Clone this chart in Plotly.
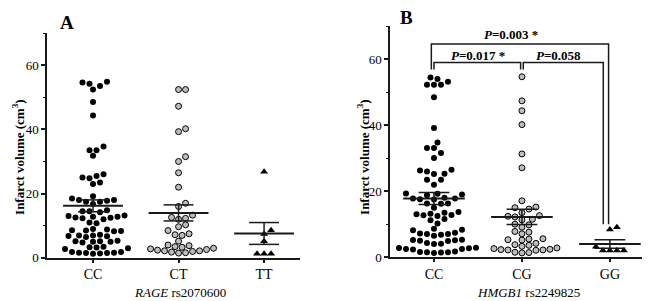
import plotly.graph_objects as go

# ---------------- data ----------------
cats_A = ["CC", "CT", "TT"]
cats_B = ["CC", "CG", "GG"]

A_CC = [54.8, 54.2, 54.6, 53.5, 52.4, 48.5, 44.3, 34.7, 33.5, 33.5, 31.8, 26.0, 25.5, 25.0,
        24.8, 23.5, 23.0, 19.2, 18.5, 18.0, 18.0, 17.8, 17.5, 17.5, 16.8, 14.8, 14.5, 14.2,
        14.5, 13.2, 13.0, 12.8, 12.6, 12.5, 12.3, 12.8, 12.0, 11.0, 10.8, 9.0, 8.8, 8.6, 8.5,
        8.4, 8.3, 7.2, 7.0, 7.0, 6.8, 6.7, 6.5, 5.3, 5.2, 5.0, 5.0, 4.8, 5.2, 3.5, 3.2, 3.0,
        3.3, 2.8, 1.8, 1.6, 1.5, 1.5, 1.4, 1.3, 1.6, 1.8]
A_CT = [52.4, 52.4, 47.2, 40.2, 39.3, 31.5, 30.0, 26.5, 22.0, 17.0, 16.0, 13.3, 12.6, 12.3,
        12.0, 10.3, 9.7, 8.5, 7.5, 7.2, 7.0, 5.2, 4.0, 3.8, 3.5, 3.3, 3.0, 2.8, 2.6, 2.4,
        2.2, 2.2, 2.0, 1.8, 1.6, 1.5]
A_TT = [26.8, 8.6, 7.4, 5.2, 1.3, 1.3, 1.3]

B_CC = [54.5, 54.0, 53.2, 52.3, 52.3, 52.3, 48.5, 39.2, 34.8, 33.1, 33.1, 31.6, 30.1, 26.5,
        26.3, 26.0, 25.3, 25.2, 23.5, 23.5, 22.0, 19.3, 19.2, 19.0, 18.8, 18.0, 17.8, 17.8,
        17.6, 17.5, 16.3, 16.3, 16.2, 15.0, 13.7, 13.5, 13.2, 13.0, 12.8, 12.7, 12.5, 11.6,
        11.2, 10.2, 8.6, 8.3, 8.2, 7.4, 7.2, 7.0, 7.0, 6.8, 6.5, 5.3, 5.2, 5.1, 5.0, 4.9,
        4.3, 4.1, 4.0, 2.9, 2.8, 2.7, 2.5, 2.5, 2.3, 1.7, 1.6, 1.5, 1.5, 1.4, 1.3]
B_CG = [54.7, 47.4, 44.4, 40.2, 31.3, 27.1, 17.1, 15.2, 15.0, 14.6, 13.5, 12.6, 12.4, 12.2,
        11.5, 11.3, 10.0, 9.8, 9.1, 7.8, 7.6, 7.1, 5.6, 5.5, 5.3, 5.2, 4.2, 3.8, 3.6, 3.3,
        2.8, 2.6, 2.4, 2.3, 2.2, 2.2, 2.1, 1.5, 1.4, 1.3]
B_GG = [9.1, 8.4, 3.2, 2.0, 2.0, 2.0, 2.0]

mean_A = [16.2, 14.0, 7.6]
sem_A = [1.85, 2.5, 3.4]
mean_B = [17.8, 12.2, 4.0]
sem_B = [1.8, 2.3, 1.3]

y_ticks = [0, 20, 40, 60]
p_labels = ["<b><i>P</i>=0.003 *</b>", "<b><i>P</i>=0.017 *</b>", "<b><i>P</i>=0.058</b>"]

# ---------------- helpers ----------------
FONT = "Liberation Serif, Times New Roman, serif"
AX = "#1a1a1a"
W, H = 650, 301


def swarm(vals, center, px_x, px_y, diam=6.4, step=3.5):
    """Collision-based beeswarm; px_x / px_y are pixels per data unit."""
    placed = []
    xs, ys = [], []
    for val in sorted(vals):
        yp = val * px_y
        k = 0
        while True:
            cands = [0.0] if k == 0 else [k * step, -k * step]
            ok = None
            for c in cands:
                if all((c - a) ** 2 + (yp - b) ** 2 >= diam ** 2 for a, b in placed):
                    ok = c
                    break
            if ok is not None:
                break
            k += 1
        placed.append((ok, yp))
        xs.append(center + ok / px_x)
        ys.append(val)
    return xs, ys


fig = go.Figure()

marker_styles = [
    dict(symbol="circle", size=6, color="black"),
    dict(symbol="circle", size=6, color="#bdbdbd", line=dict(color="black", width=1)),
    dict(symbol="triangle-up", size=7, color="black"),
]

panels = (
    ("", [A_CC, A_CT, A_TT], mean_A, sem_A, 85.5, 3.3),
    ("2", [B_CC, B_CG, B_GG], mean_B, sem_B, 88.0, 3.39),
)
for panel, groups, means, sems, pxx, pxy in panels:
    xa, ya = "x" + panel, "y" + panel
    for i, g in enumerate(groups):
        xs, ys = swarm(g, i, pxx, pxy)
        fig.add_trace(go.Scatter(x=xs, y=ys, mode="markers", marker=marker_styles[i],
                                 xaxis=xa, yaxis=ya, showlegend=False, hoverinfo="y"))
    for i, (m, s) in enumerate(zip(means, sems)):
        fig.add_trace(go.Scatter(x=[i - 0.35, i + 0.35], y=[m, m], mode="lines",
                                 line=dict(color=AX, width=2), xaxis=xa, yaxis=ya,
                                 showlegend=False, hoverinfo="skip"))
        fig.add_trace(go.Scatter(
            x=[i - 0.175, i + 0.175, None, i, i, None, i - 0.175, i + 0.175],
            y=[m + s, m + s, None, m + s, m - s, None, m - s, m - s],
            mode="lines", line=dict(color=AX, width=1.5), xaxis=xa, yaxis=ya,
            showlegend=False, hoverinfo="skip"))

# significance brackets (panel B)
br = dict(color=AX, width=1.5)
bracket_paths = [
    ([0.0, 0.0, 0.985, 0.985], [56.9, 59.0, 59.0, 56.9]),
    ([1.015, 1.015, 1.925, 1.925], [56.9, 59.0, 59.0, 10.0]),
    ([-0.03, -0.03, 1.985, 1.985], [56.9, 64.6, 64.6, 10.0]),
]
for bx, by in bracket_paths:
    fig.add_trace(go.Scatter(x=bx, y=by, mode="lines", line=br, xaxis="x2", yaxis="y2",
                             showlegend=False, hoverinfo="skip"))

ann = []
ann.append(dict(x=0.875, y=67.6, xref="x2", yref="y2", text=p_labels[0], showarrow=False,
                font=dict(family=FONT, size=13, color="black")))
ann.append(dict(x=0.5, y=61.3, xref="x2", yref="y2", text=p_labels[1], showarrow=False,
                font=dict(family=FONT, size=13, color="black")))
ann.append(dict(x=1.42, y=61.3, xref="x2", yref="y2", text=p_labels[2], showarrow=False,
                font=dict(family=FONT, size=13, color="black")))

for lbl, px, py in (("A", 59, 15), ("B", 398, 10)):
    ann.append(dict(x=px / W, y=1 - py / H, xref="paper", yref="paper", text="<b>" + lbl + "</b>",
                    showarrow=False, font=dict(family=FONT, size=19, color="black"),
                    xanchor="center", yanchor="middle"))
for px in (10, 355):
    ann.append(dict(x=px / W, y=1 - 153 / H, xref="paper", yref="paper",
                    text="<b>Infarct volume (cm<sup>3</sup>)</b>", textangle=-90,
                    showarrow=False, font=dict(family=FONT, size=13, color="black"),
                    xanchor="center", yanchor="middle"))
for txt, px in (("<i>RAGE</i> rs2070600", 172), ("<i>HMGB1</i> rs2249825", 520)):
    ann.append(dict(x=px / W, y=1 - 292 / H, xref="paper", yref="paper", text=txt,
                    showarrow=False, font=dict(family=FONT, size=13, color="black"),
                    xanchor="center", yanchor="middle"))

common_x = dict(showline=True, linecolor=AX, linewidth=1.5, ticks="outside", ticklen=3,
                tickcolor=AX, tickwidth=1.5, showgrid=False, zeroline=False,
                tickfont=dict(family=FONT, size=14, color="black"), tickvals=[0, 1, 2])
common_y = dict(showline=True, linecolor=AX, linewidth=1.5, ticks="outside", ticklen=4,
                tickcolor=AX, tickwidth=1.5, showgrid=False, zeroline=False, range=[0, 70],
                tickvals=y_ticks, tickfont=dict(family=FONT, size=13, color="black"),
                minor=dict(ticks="outside", ticklen=2, tickcolor=AX, tickwidth=1.2,
                           tickvals=[10, 30, 50, 70]))

fig.update_layout(
    width=W, height=H, margin=dict(l=0, r=0, t=0, b=0),
    plot_bgcolor="white", paper_bgcolor="white", showlegend=False,
    xaxis=dict(common_x, domain=[39 / W, 292 / W], range=[-0.538, 2.42], ticktext=cats_A,
               anchor="y"),
    yaxis=dict(common_y, domain=[1 - 256.7 / H, 1 - 25.7 / H], anchor="x"),
    xaxis2=dict(common_x, domain=[382 / W, 645 / W], range=[-0.5, 2.49], ticktext=cats_B,
                anchor="y2"),
    yaxis2=dict(common_y, domain=[1 - 256 / H, 1 - 18.8 / H], anchor="x2"),
    annotations=ann,
)

fig.write_html("out.html")
